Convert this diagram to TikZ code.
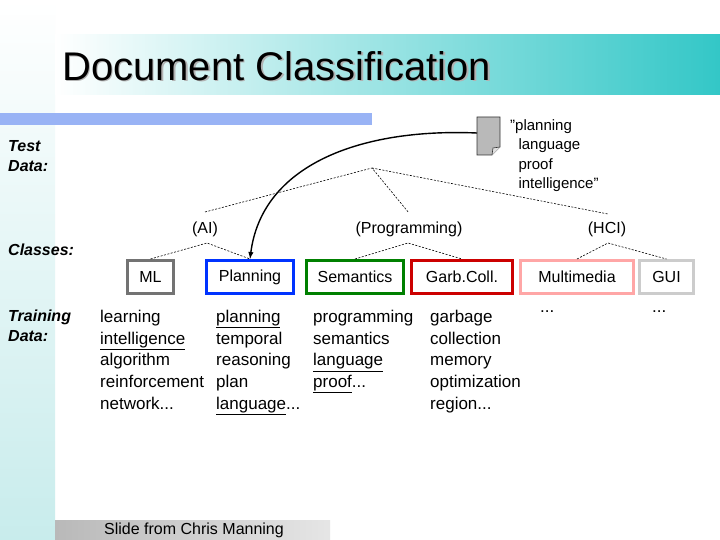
\documentclass[tikz,border=0pt]{standalone}
\usepackage{fontspec}
\setmainfont{Liberation Sans}
\definecolor{barblue}{RGB}{153,179,245}
\definecolor{stripe}{RGB}{200,236,236}
\definecolor{teal1}{RGB}{51,199,199}
\begin{document}
\begin{tikzpicture}[x=1pt,y=-1pt,
  cls/.style={draw=#1,line width=3pt,minimum height=33pt,anchor=north west,inner sep=0pt,font=\fontsize{16}{18}\selectfont},
  lbl/.style={font=\fontsize{16}{18}\selectfont,inner sep=0pt},
  side/.style={font=\fontsize{16}{20}\selectfont\bfseries\itshape,align=left,anchor=north west,inner sep=0pt},
  col/.style={font=\fontsize{17}{21.7}\selectfont,align=left,anchor=north west,inner sep=0pt},
  tree/.style={dash pattern=on 2pt off 1.5pt,line width=0.6pt}]
\useasboundingbox (0,0) rectangle (720,540);
\fill[white] (0,0) rectangle (720,540);
\shade[top color=white,bottom color=stripe] (0,0) rectangle (55,540);
\shade[left color=white,right color=teal1] (55,35) rectangle (720,95);
\fill[barblue] (0,113) rectangle (372,125);
\node[anchor=west,inner sep=0pt,font=\fontsize{40}{44}\selectfont,text=gray!60] (titlesh) at (63.5,67.5) {Document Classification};
\node[anchor=west,inner sep=0pt,font=\fontsize{40}{44}\selectfont] (title) at (62,66) {Document Classification};
% document icon
\filldraw[fill=gray!55,draw=gray!40!black,line width=0.6pt] (477,117) -- (500,117) -- (500,147) -- (492,155) -- (477,155) -- cycle;
\draw[gray!40!black,line width=0.6pt,fill=gray!25] (500,147) -- (493,148) -- (492,155);
\coordinate (doc) at (477,133);
\node[anchor=north west,inner sep=0pt,font=\fontsize{15}{19.5}\selectfont,align=left] (q) at (510,119) {"planning\\\ \ language\\\ \ proof\\\ \ intelligence"};
\node[side] (test) at (8,140) {Test\\Data:};
\node[side] (classes) at (8,244) {Classes:};
\node[side] (train) at (8,310) {Training\\Data:};
% tree
\coordinate (root) at (372,168);
\node[lbl] (ai) at (205,229) {(AI)};
\node[lbl] (prog) at (409,229) {(Programming)};
\node[lbl] (hci) at (607,229) {(HCI)};
\draw[tree] (205,212) -- (root) -- (409,213);
\draw[tree] (root) -- (608,214);
\node[cls=gray!90!black,minimum width=46pt] (ml) at (126,259) {ML};
\node[cls={blue!60!cyan!50!blue},minimum width=87pt] (plan) at (205,259) {Planning};
\node[cls={green!50!black},minimum width=97pt] (sem) at (305,259) {Semantics};
\node[cls={red!80!black},minimum width=101pt] (garb) at (410,259) {Garb.Coll.};
\node[cls={red!35!white},minimum width=113pt] (mm) at (519,259) {Multimedia};
\node[cls=gray!40,minimum width=54pt] (gui) at (638,259) {GUI};
\draw[tree] (ml.north) -- (207,243) -- (plan.north);
\draw[tree] (sem.north) -- (408,243) -- (garb.north);
\draw[tree] (mm.north) -- (608,243) -- (gui.north);
\draw[line width=1.4pt,-{latex}] (doc) .. controls (360,128) and (262,165) .. (plan.north);
% training text
\node[col] (c1) at (100,310) {learning\\\underline{intelligence}\\algorithm\\reinforcement\\network...};
\node[col] (c2) at (216,310) {\underline{planning}\\temporal\\reasoning\\plan\\\underline{language}...};
\node[col] (c3) at (313,310) {programming\\semantics\\\underline{language}\\\underline{proof}...};
\node[col] (c4) at (430,310) {garbage\\collection\\memory\\optimization\\region...};
\node[col] (c5) at (540,310) {...};
\node[col] (c6) at (652,310) {...};
\shade[left color=gray!55,right color=gray!20] (55,520) rectangle (330,540);
\node[anchor=west,inner sep=0pt,font=\fontsize{16}{18}\selectfont] (credit) at (104,530) {Slide from Chris Manning};
\end{tikzpicture}
\end{document}
